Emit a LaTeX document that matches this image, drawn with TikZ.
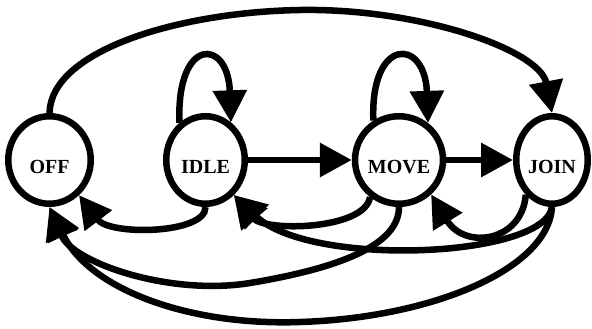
\documentclass[tikz,border=0pt]{standalone}
\usepackage{fontspec}
\setmainfont{Liberation Serif}
\usetikzlibrary{arrows.meta,shapes.geometric}
\begin{document}
\begin{tikzpicture}[x=1pt,y=-1pt,
  state/.style={ellipse,draw,line width=6.5pt,inner sep=0pt,minimum height=87.5pt,
    text height=26pt,text depth=0pt,font=\fontsize{20}{24}\selectfont\bfseries},
  edge/.style={line width=6.5pt,-{Triangle[length=32pt,width=33pt]}}]
\useasboundingbox (0,0) rectangle (592,329);
\node[state,minimum width=82.5pt] (OFF) at (49.5,160) {OFF};
\node[state,minimum width=78.5pt] (IDLE) at (205.5,160) {IDLE};
\node[state,minimum width=75.5pt] (MOVE) at (399,160) {MOVE};
\node[state,minimum width=71.5pt] (JOIN) at (552,160) {JOIN};
\draw[edge] (OFF.north) .. controls (51,50) and (180,12) .. (300,10) .. controls (420,8) and (540,50) .. (JOIN.north);
\draw[edge] (IDLE.125) .. controls (176,37) and (228,37) .. (IDLE.56);
\draw[edge] (MOVE.123) .. controls (370,37) and (425,37) .. (MOVE.52);
\draw[edge] (IDLE) -- (MOVE);
\draw[edge] (MOVE) -- (JOIN);
\draw[edge] (IDLE.south) .. controls (206,234) and (110,236) .. (OFF.-50);
\draw[edge] (MOVE.-128) .. controls (365,230) and (265,232) .. (IDLE.-51);
\draw[edge] (JOIN.-127) .. controls (522,242) and (465,250) .. (MOVE.-47);
\draw[edge] (JOIN.south) .. controls (545,258) and (310,268) .. (IDLE.-51);
\draw[edge] (MOVE.south) .. controls (399,245) and (340,268) .. (250,283) .. controls (170,296) and (73,263) .. (OFF.south);
\draw[edge] (JOIN.south) .. controls (548,270) and (430,318) .. (300,322) .. controls (190,326) and (90,290) .. (OFF.south);
\end{tikzpicture}
\end{document}
